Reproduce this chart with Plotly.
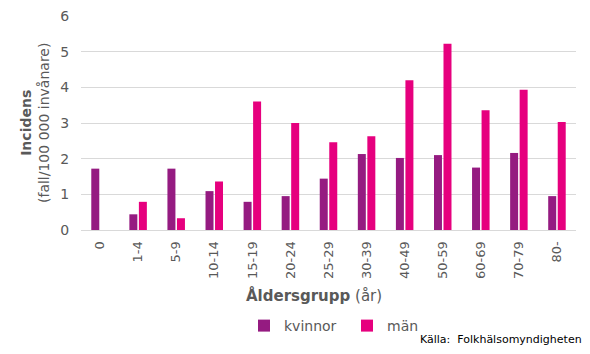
import plotly.graph_objects as go

categories = ["0", "1-4", "5-9", "10-14", "15-19", "20-24", "25-29", "30-39", "40-49", "50-59", "60-69", "70-79", "80-"]
kvinnor = [1.72, 0.44, 1.72, 1.09, 0.79, 0.95, 1.44, 2.13, 2.02, 2.10, 1.75, 2.16, 0.95]
man = [0.0, 0.79, 0.33, 1.36, 3.60, 3.00, 2.46, 2.63, 4.20, 5.22, 3.36, 3.93, 3.03]
yticks = [0, 1, 2, 3, 4, 5, 6]

font = "DejaVu Sans, Verdana, sans-serif"
W, H = 590, 354
L, R, T, B = 81, 14, 16, 124
PW, PH = W - L - R, H - T - B


def px(xp):
    return (xp - L) / PW


def py(yp):
    return (H - B - yp) / PH


fig = go.Figure()
fig.add_trace(go.Bar(x=categories, y=kvinnor, name="kvinnor", marker=dict(color="#951B81", line=dict(width=0))))
fig.add_trace(go.Bar(x=categories, y=man, name="män", marker=dict(color="#E6007E", line=dict(width=0))))

fig.update_layout(
    width=W, height=H,
    margin=dict(l=L, r=R, t=T, b=B, autoexpand=False),
    paper_bgcolor="white", plot_bgcolor="white",
    font=dict(family=font, color="#595959", size=13),
    barmode="group", bargap=0.5, bargroupgap=0.16,
    showlegend=True,
    legend=dict(orientation="h", x=244 / W, xanchor="left", xref="container",
                y=1 - 326 / H, yanchor="middle", yref="container",
                font=dict(size=14, color="#595959"), itemwidth=30, traceorder="normal",
                tracegroupgap=0, entrywidth=58, entrywidthmode="pixels"),
    xaxis=dict(tickangle=-90, tickfont=dict(size=13, color="#595959"), showline=True,
               linecolor="#d9d9d9", linewidth=1, ticks="outside", ticklen=5, tickcolor="rgba(0,0,0,0)",
               automargin=False),
    yaxis=dict(range=[0, 6], tickvals=yticks, tickfont=dict(size=14, color="#595959"),
               gridcolor="#d9d9d9", gridwidth=1, zeroline=False, ticks="outside", ticklen=8,
               tickcolor="rgba(0,0,0,0)", automargin=False),
    annotations=[
        dict(text="<b>Incidens</b><br>(fall/100 000 invånare)", xref="paper", yref="paper",
             x=px(35), y=0.5, xanchor="center", yanchor="middle", textangle=-90, showarrow=False,
             font=dict(size=14, color="#595959")),
        dict(text="<b>Åldersgrupp</b> (år)", xref="paper", yref="paper",
             x=px(314), y=py(295), xanchor="center", yanchor="middle", showarrow=False,
             font=dict(size=15, color="#595959")),
        dict(text="Källa:  Folkhälsomyndigheten", xref="paper", yref="paper",
             x=px(584), y=py(339), xanchor="right", yanchor="middle", showarrow=False,
             font=dict(size=11, color="#000000")),
    ],
)
fig.write_html("out.html")
